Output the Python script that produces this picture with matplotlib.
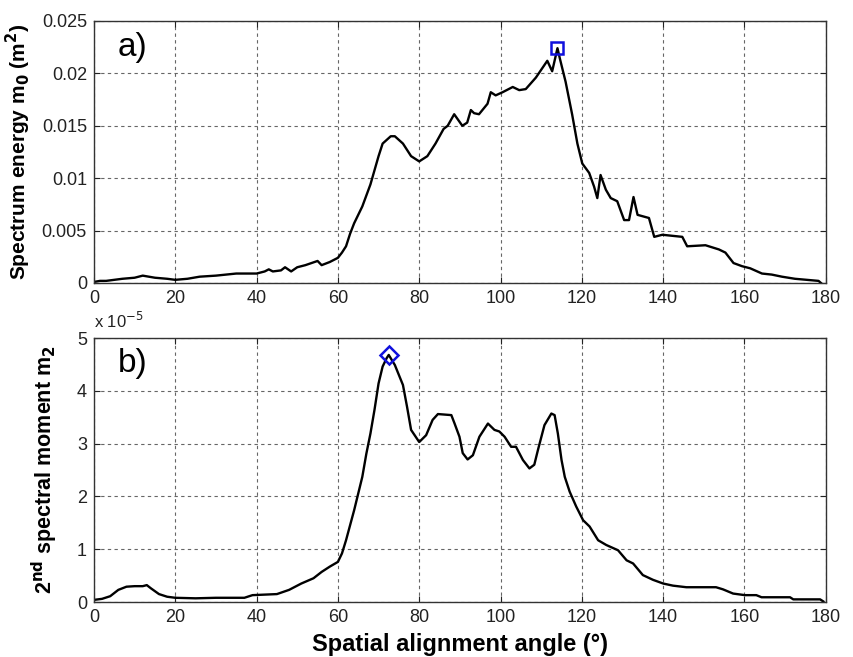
import numpy as np
import matplotlib
matplotlib.use('Agg')
import matplotlib.pyplot as plt
from matplotlib.ticker import FuncFormatter

plt.rcParams['font.family'] = ['Liberation Sans', 'DejaVu Sans']

# --- spectrum energy m0 vs alignment angle ---
ang_a = [0, 1.5, 3, 7, 10, 12, 15, 18, 20, 23, 26, 30, 35, 40, 42, 43, 44, 46, 47, 48.5,
         50, 52, 55, 56, 58, 60, 61, 62, 63, 64, 66, 68, 70, 71, 73, 74, 76, 78, 80,
         82, 84, 86, 87, 88.6, 90.6, 91.8, 92.7, 93.5, 94.7, 96.8, 97.6, 98.8, 100.5,
         103, 104.6, 106.2, 108.7, 111.5, 112.7, 114, 114.6, 116, 117.6, 118.9, 120.1,
         121.8, 123, 123.8, 124.6, 125.9, 127.1, 128.7, 130.4, 131.6, 132.7, 133.7,
         136.5, 137.8, 139.8, 144.7, 145.9, 150.4, 153.7, 155.3, 157.3, 159.4, 161.4,
         164.3, 166.7, 169.2, 172.4, 178.2, 178.8]
m0 = [0.0001, 0.0002, 0.0002, 0.0004, 0.0005, 0.0007, 0.0005, 0.0004, 0.0003, 0.0004,
      0.0006, 0.0007, 0.0009, 0.0009, 0.0011, 0.0013, 0.0011, 0.0012, 0.0015, 0.0011,
      0.0015, 0.0017, 0.0021, 0.0017, 0.0020, 0.0024, 0.0029, 0.0035, 0.0047, 0.0057,
      0.0073, 0.0094, 0.0121, 0.0133, 0.0140, 0.0140, 0.0133, 0.0121, 0.0116,
      0.0121, 0.0133, 0.0147, 0.0150, 0.0161, 0.0150, 0.0153, 0.0165, 0.0162, 0.0161,
      0.0171, 0.0182, 0.0179, 0.0182, 0.0187, 0.0184, 0.0185, 0.0196, 0.0212, 0.0202,
      0.0224, 0.0214, 0.0192, 0.0161, 0.0133, 0.0114, 0.0105, 0.0092, 0.0081, 0.0103,
      0.0089, 0.0081, 0.0078, 0.0060, 0.0060, 0.0082, 0.0065, 0.0062, 0.0044, 0.0046,
      0.0044, 0.0035, 0.0036, 0.0032, 0.0029, 0.0019, 0.0016, 0.0014, 0.0009, 0.0008,
      0.0006, 0.0004, 0.0002, 0.0000]

# --- 2nd spectral moment m2 (x 10^-5) ---
ang_b = [0, 2, 4, 6, 8, 10, 12, 13, 14, 16, 18, 20, 25, 30, 37, 39, 45, 48, 51, 54, 56,
         58, 60, 61, 62, 64, 66, 67, 68, 69, 70, 71, 72, 72.5, 74, 76, 77, 78, 80,
         81.7, 83.3, 84.6, 87.9, 88.7, 89.9, 90.7, 91.9, 93.2, 94.8, 96.9, 98.5, 99.7,
         101, 102.6, 103.8, 105.5, 107.1, 108.3, 109.2, 110.8, 112.5, 113.3, 114.1, 115,
         115.8, 117, 118.6, 120.3, 121.9, 124, 126, 128.9, 131, 132.6, 135, 137.5, 140,
         142.4, 145.7, 153, 154.7, 157.2, 160.1, 162.9, 164.2, 171.2, 172, 178.6, 179.4]
m2 = [0.04, 0.06, 0.11, 0.23, 0.29, 0.30, 0.30, 0.32, 0.26, 0.15, 0.10, 0.08, 0.07, 0.08,
      0.08, 0.13, 0.15, 0.23, 0.35, 0.45, 0.57, 0.67, 0.76, 0.92, 1.17, 1.74, 2.37, 2.81,
      3.19, 3.64, 4.14, 4.46, 4.62, 4.68, 4.49, 4.11, 3.70, 3.26, 3.03,
      3.16, 3.45, 3.56, 3.54, 3.38, 3.13, 2.82, 2.70, 2.78, 3.13, 3.38, 3.26, 3.23,
      3.13, 2.94, 2.94, 2.69, 2.53, 2.60, 2.88, 3.35, 3.57, 3.54, 3.19, 2.69,
      2.37, 2.09, 1.81, 1.55, 1.43, 1.17, 1.08, 0.98, 0.79, 0.73, 0.51, 0.42, 0.35,
      0.31, 0.28, 0.28, 0.24, 0.16, 0.13, 0.13, 0.09, 0.09, 0.05, 0.05, 0.01]

fig = plt.figure(figsize=(8.54, 6.57), dpi=100)
ax1 = fig.add_axes([0.110, 0.5693, 0.857, 0.3988])
ax2 = fig.add_axes([0.110, 0.0837, 0.857, 0.4018])

grid_kw = dict(color='#666666', linestyle=(0, (3, 3)), linewidth=0.8)

for ax in (ax1, ax2):
    ax.set_xlim(0, 180)
    ax.set_xticks(np.arange(0, 181, 20))
    ax.grid(True, **grid_kw)
    ax.tick_params(direction='in', length=4, top=True, right=True,
                   labelsize=13, pad=5, colors='#222222')
    for s in ax.spines.values():
        s.set_linewidth(1.0)
        s.set_color('#333333')

# panel a
ax1.plot(ang_a, m0, color='black', linewidth=1.7)
i = int(np.argmax(m0))
ax1.plot(ang_a[i], m0[i], marker='s', markersize=9, markerfacecolor='none',
         markeredgecolor='#1010dd', markeredgewidth=1.8)
ax1.set_ylim(0, 0.025)
ax1.set_yticks(np.arange(0, 0.0251, 0.005))
ax1.yaxis.set_major_formatter(FuncFormatter(lambda v, p: '%g' % round(v, 4)))
ax1.set_ylabel('Spectrum energy m$_\\mathbf{0}$ (m$^\\mathbf{2}$)', fontsize=15,
               fontweight='bold', labelpad=6)
ax1.text(0.033, 0.90, 'a)', transform=ax1.transAxes, fontsize=24, va='center')

# panel b
ax2.plot(ang_b, m2, color='black', linewidth=1.7)
j = int(np.argmax(m2))
ax2.plot(ang_b[j], m2[j], marker='D', markersize=9, markerfacecolor='none',
         markeredgecolor='#1010dd', markeredgewidth=1.8)
ax2.set_ylim(0, 5)
ax2.set_yticks(np.arange(0, 6, 1))
ax2.set_ylabel('2$^\\mathbf{nd}$ spectral moment m$_\\mathbf{2}$', fontsize=15.5,
               fontweight='bold', labelpad=12)
ax2.set_xlabel('Spatial alignment angle (°)', fontsize=17, fontweight='bold', labelpad=5)
ax2.text(0.033, 0.905, 'b)', transform=ax2.transAxes, fontsize=24, va='center')
ax2.text(0.0, 1.025, 'x 10$^{-5}$', transform=ax2.transAxes, fontsize=12,
         color='#222222', va='bottom', ha='left')

fig.savefig('out.png', dpi=100)
